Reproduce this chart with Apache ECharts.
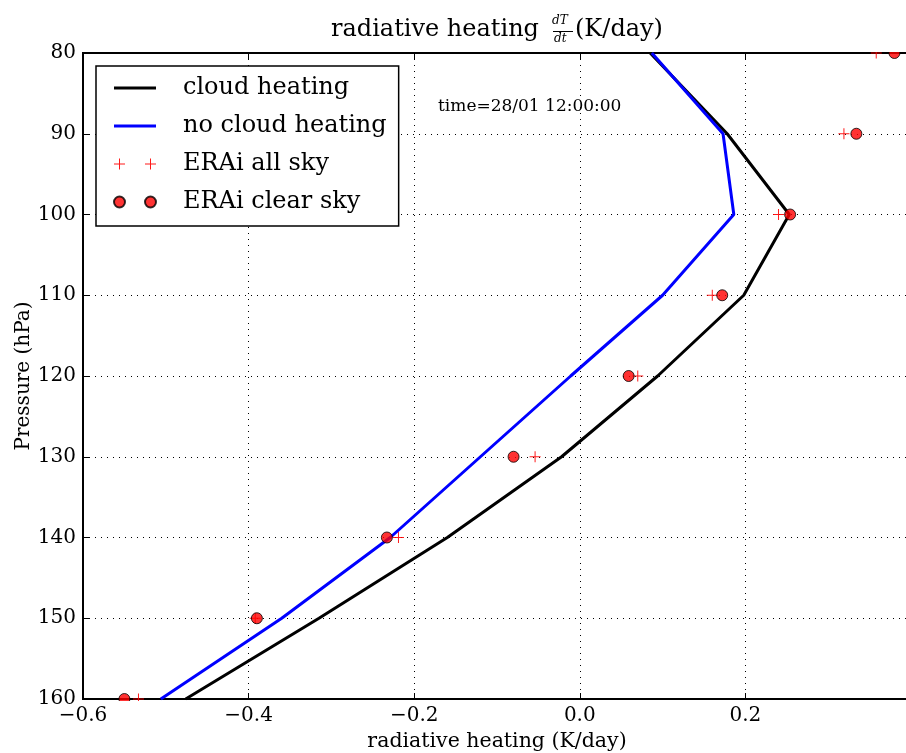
<!DOCTYPE html>
<html>
<head>
<meta charset="utf-8">
<script src="https://cdn.jsdelivr.net/npm/echarts@6/dist/echarts.min.js"></script>
<style>html,body{margin:0;padding:0;background:#fff;overflow:hidden}#c{width:906px;height:753px}</style>
</head>
<body>
<div id="c"></div>
<script>
// Pressure levels (hPa)
var pressure = [80, 90, 100, 110, 120, 130, 140, 150, 160];
// radiative heating (K/day)
var cloudHeating   = [0.085, 0.178, 0.253, 0.198, 0.094, -0.022, -0.160, -0.315, -0.476];
var noCloudHeating = [0.087, 0.173, 0.186, 0.100, -0.011, -0.120, -0.229, -0.360, -0.506];
var eraAllSky      = [0.358, 0.319, 0.240, 0.160, 0.070, -0.054, -0.219, -0.392, -0.533];
var eraClearSky    = [0.380, 0.334, 0.254, 0.172, 0.059, -0.080, -0.233, -0.390, -0.550];
var xTicks = [-0.6, -0.4, -0.2, 0.0, 0.2];
var yTicks = [80, 90, 100, 110, 120, 130, 140, 150, 160];
var seriesNames = ['cloud heating', 'no cloud heating', 'ERAi all sky', 'ERAi clear sky'];

function pairs(vals) { return vals.map(function (v, i) { return [v, pressure[i]]; }); }

var FONT = 'DejaVu Serif';
var plusPath = 'path://M0,5h11v1h-11z M5,0h1v11h-1z';
var twoPlus = 'path://M0,5h11v1h-11z M5,0h1v11h-1z M31,5h11v1h-11z M36,0h1v11h-1z';
var lineIcon = 'path://M0,0L0.01,0Z M0,4h42v3h-42z M42,11L41.99,11Z';
function circ(cx, cy, r) {
  var k = 0.5523 * r;
  return 'M' + (cx - r) + ',' + cy +
    ' C' + (cx - r) + ',' + (cy - k) + ' ' + (cx - k) + ',' + (cy - r) + ' ' + cx + ',' + (cy - r) +
    ' C' + (cx + k) + ',' + (cy - r) + ' ' + (cx + r) + ',' + (cy - k) + ' ' + (cx + r) + ',' + cy +
    ' C' + (cx + r) + ',' + (cy + k) + ' ' + (cx + k) + ',' + (cy + r) + ' ' + cx + ',' + (cy + r) +
    ' C' + (cx - k) + ',' + (cy + r) + ' ' + (cx - r) + ',' + (cy + k) + ' ' + (cx - r) + ',' + cy + ' Z';
}
var twoCircles = 'path://' + circ(5.5, 5.5, 5.5) + ' ' + circ(36.5, 5.5, 5.5);

function fmtX(v) {
  if (Math.abs(v - 0.4) < 1e-6) return '';
  return (v < -1e-9 ? '\u2212' : '') + Math.abs(v).toFixed(1);
}

var chart = echarts.init(document.getElementById('c'), null, { renderer: 'canvas' });
chart.setOption({
  animation: false,
  backgroundColor: '#fff',
  textStyle: { fontFamily: FONT, color: '#000' },
  title: {
    text: 'radiative heating',
    left: 331, top: 16, padding: 0,
    textStyle: { fontFamily: FONT, fontSize: 24, fontWeight: 'normal', color: '#000', lineHeight: 28 }
  },
  graphic: [
    { type: 'text', left: 552, top: 15, style: { text: 'dT', font: 'italic 12px "DejaVu Serif"', fill: '#000' } },
    { type: 'rect', shape: { x: 553, y: 31, width: 20, height: 1 }, style: { fill: '#000' } },
    { type: 'text', left: 554, top: 33, style: { text: 'dt', font: 'italic 12px "DejaVu Serif"', fill: '#000' } },
    { type: 'text', left: 575, top: 16, style: { text: '(K/day)', font: '24px "DejaVu Serif"', fill: '#000', lineHeight: 28 } },
    { type: 'text', left: 438, top: 98, style: { text: 'time=28/01 12:00:00', font: '17px "DejaVu Serif"', fill: '#000' } },
    { type: 'text', x: 24, y: 376, rotation: Math.PI / 2,
      style: { text: 'Pressure (hPa)', font: '20px "DejaVu Serif"', fill: '#000', align: 'center', verticalAlign: 'middle' } },
    // masks emulating clipping of markers at the axes frame
    { type: 'rect', z: 100, shape: { x: 840, y: 34, width: 70, height: 18 }, style: { fill: '#fff' } },
    { type: 'rect', z: 100, shape: { x: 110, y: 701, width: 36, height: 8 }, style: { fill: '#fff' } }
  ],
  grid: { left: 83, top: 53, width: 828, bottom: 54, outerBoundsMode: 'none', containLabel: false,
    show: true, borderColor: '#000', borderWidth: 2, backgroundColor: 'transparent' },
  legend: {
    orient: 'vertical', left: 96, top: 66,
    padding: [9, 12, 11, 17],
    itemGap: 12, itemWidth: 42, itemHeight: 11,
    backgroundColor: '#fff', borderColor: '#000', borderWidth: 1.5, borderRadius: 0,
    textStyle: { fontFamily: FONT, fontSize: 24, color: '#000', lineHeight: 26, padding: [0, 0, 0, 22] },
    data: [
      { name: seriesNames[0], icon: lineIcon },
      { name: seriesNames[1], icon: lineIcon },
      { name: seriesNames[2], icon: twoPlus },
      { name: seriesNames[3], icon: twoCircles }
    ]
  },
  xAxis: [{
    type: 'value', min: -0.6, max: 0.4, interval: 0.2, position: 'bottom',
    name: 'radiative heating (K/day)', nameLocation: 'middle', nameGap: 31,
    nameTextStyle: { fontFamily: FONT, fontSize: 20.5, color: '#000' },
    axisLine: { show: true, onZero: false, lineStyle: { color: '#000', width: 2 } },
    axisTick: { show: true, inside: true, length: 6, lineStyle: { color: '#000', width: 1 } },
    axisLabel: { formatter: fmtX, fontFamily: FONT, fontSize: 20, color: '#000', margin: 7 },
    splitLine: { show: true, lineStyle: { color: '#000', width: 1, type: [1, 5] } }
  }, {
    type: 'value', min: -0.6, max: 0.4, interval: 0.2, position: 'top',
    axisLine: { show: true, onZero: false, lineStyle: { color: '#000', width: 2 } },
    axisTick: { show: true, inside: true, length: 6, lineStyle: { color: '#000', width: 1 } },
    axisLabel: { show: false }, splitLine: { show: false }
  }],
  yAxis: {
    type: 'value', min: 80, max: 160, interval: 10, inverse: true,
    axisLine: { show: true, onZero: false, lineStyle: { color: '#000', width: 2 } },
    axisTick: { show: true, inside: true, length: 6, lineStyle: { color: '#000', width: 1 } },
    axisLabel: { fontFamily: FONT, fontSize: 20, color: '#000', margin: 7 },
    splitLine: { show: true, lineStyle: { color: '#000', width: 1, type: [1, 5] } }
  },
  series: [
    { name: seriesNames[0], type: 'line', data: pairs(cloudHeating), symbol: 'none', showSymbol: false,
      lineStyle: { color: '#000', width: 3 }, itemStyle: { color: '#000' }, z: 3 },
    { name: seriesNames[1], type: 'line', data: pairs(noCloudHeating), symbol: 'none', showSymbol: false,
      lineStyle: { color: '#0000ff', width: 3 }, itemStyle: { color: '#0000ff' }, z: 3 },
    { name: seriesNames[2], type: 'scatter', data: pairs(eraAllSky), symbol: plusPath, symbolSize: 11,
      itemStyle: { color: '#ff0000', opacity: 0.9 }, z: 4 },
    { name: seriesNames[3], type: 'scatter', data: pairs(eraClearSky), symbol: 'circle', symbolSize: 11,
      itemStyle: { color: '#ff0000', borderColor: '#000', borderWidth: 1 }, z: 5 }
  ]
});
</script>
</body>
</html>
